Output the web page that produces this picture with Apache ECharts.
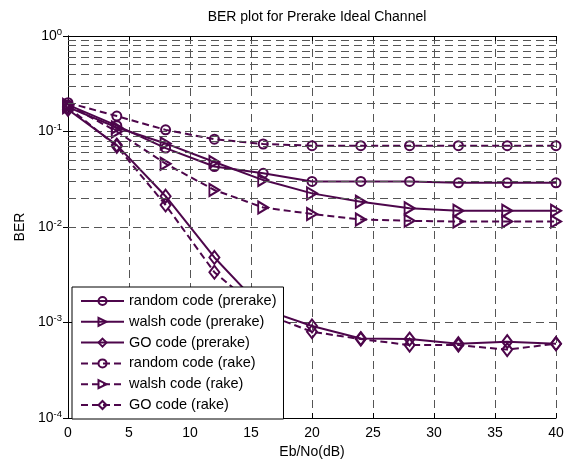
<!DOCTYPE html>
<html>
<head>
<meta charset="utf-8">
<script src="https://cdn.jsdelivr.net/npm/echarts@6/dist/echarts.min.js"></script>
<style>html,body{margin:0;padding:0;background:#fff}#c{width:567px;height:459px}</style>
</head>
<body>
<div id="c"></div>
<script>
const snr = [0, 4, 8, 12, 16, 20, 24, 28, 32, 36, 40];
const randomPrerake = [0.19, 0.115, 0.067, 0.043, 0.0365, 0.030, 0.030, 0.030, 0.029, 0.029, 0.029];
const walshPrerake = [0.18, 0.11, 0.075, 0.048, 0.031, 0.0225, 0.0184, 0.0157, 0.0148, 0.0148, 0.0148];
const goPrerake = [0.17, 0.072, 0.021, 0.0048, 0.00138, 0.00092, 0.00068, 0.00067, 0.0006, 0.00063, 0.0006];
const randomRake = [0.2, 0.145, 0.104, 0.083, 0.074, 0.071, 0.071, 0.071, 0.071, 0.071, 0.071];
const walshRake = [0.19, 0.1, 0.046, 0.0244, 0.016, 0.0137, 0.012, 0.0116, 0.0114, 0.0114, 0.0114];
const goRake = [0.18, 0.07, 0.017, 0.00336, 0.00125, 0.0008, 0.00067, 0.00058, 0.00058, 0.00052, 0.0006];
const seriesNames = ['random code (prerake)', 'walsh code (prerake)', 'GO code (prerake)',
  'random code (rake)', 'walsh code (rake)', 'GO code (rake)'];
const xTicks = [0, 5, 10, 15, 20, 25, 30, 35, 40];
const yDecades = [-4, -3, -2, -1, 0];

const C = '#4d064b';
const FONT = 'Liberation Sans';
const GRID = '#555';
const tri = 'path://M0,0L10,6L0,12Z';
const sym = ['circle', tri, 'diamond'];
const symSize = [9, [10, 12], [10, 13]];
const data = [randomPrerake, walshPrerake, goPrerake, randomRake, walshRake, goRake];

// minor log grid values (2..9 x each decade)
const minorVals = [];
for (let d = -4; d < 0; d++) for (let k = 2; k <= 9; k++) minorVals.push(k * Math.pow(10, d));

const series = data.map((vals, i) => ({
  name: seriesNames[i],
  type: 'line',
  data: vals.map((v, j) => [snr[j], v]),
  symbol: sym[i % 3],
  symbolSize: symSize[i % 3],
  showAllSymbol: true,
  color: C,
  lineStyle: { color: C, width: 2, type: i < 3 ? 'solid' : [7, 4] },
  itemStyle: { color: 'rgba(255,255,255,0)', borderColor: C, borderWidth: 2 },
  z: 3,
  animation: false
}));
series.push({
  type: 'line',
  data: [],
  silent: true,
  animation: false,
  markLine: {
    silent: true,
    symbol: ['none', 'none'],
    label: { show: false },
    lineStyle: { color: GRID, width: 1, type: [8, 5] },
    data: minorVals.map(v => ({ yAxis: v })),
    animation: false
  }
});

const chart = echarts.init(document.getElementById('c'), null, { renderer: 'canvas' });
chart.setOption({
  animation: false,
  backgroundColor: '#fff',
  textStyle: { fontFamily: FONT },
  title: {
    text: 'BER plot for Prerake Ideal Channel',
    left: 312, top: 5, textAlign: 'center',
    textStyle: { fontFamily: FONT, fontSize: 14, fontWeight: 'normal', color: '#000' }
  },
  grid: { left: 68, right: 11, top: 36, bottom: 41, containLabel: false, outerBoundsMode: 'none' },
  legend: {
    orient: 'vertical', left: 72, top: 287,
    padding: [6.5, 7, 6.5, 8],
    itemWidth: 43, itemHeight: 10, itemGap: 5.8,
    backgroundColor: '#fff', borderColor: '#000', borderWidth: 1,
    textStyle: { fontFamily: FONT, fontSize: 14.5, color: '#000', lineHeight: 13 },
    data: seriesNames
  },
  xAxis: [{
    type: 'value', min: 0, max: 40, interval: 5,
    name: 'Eb/No(dB)', nameLocation: 'middle', nameGap: 27,
    nameTextStyle: { fontFamily: FONT, fontSize: 14, color: '#000' },
    axisLine: { lineStyle: { color: '#000', width: 1 } },
    axisTick: { inside: true, length: 5, lineStyle: { color: '#000' } },
    axisLabel: { fontFamily: FONT, fontSize: 14, color: '#000', margin: 8,
      formatter: v => xTicks.indexOf(v) >= 0 ? String(v) : '' },
    splitLine: { show: true, lineStyle: { color: GRID, width: 1, type: [8, 5] } }
  }, {
    type: 'value', min: 0, max: 40, interval: 5, position: 'top',
    axisLine: { show: true, onZero: false, lineStyle: { color: '#000', width: 1 } },
    axisTick: { inside: true, length: 5, lineStyle: { color: '#000' } },
    axisLabel: { show: false }, splitLine: { show: false }
  }],
  yAxis: [{
    type: 'log', logBase: 10, min: 1e-4, max: 1,
    name: 'BER', nameLocation: 'middle', nameGap: 37,
    nameTextStyle: { fontFamily: FONT, fontSize: 14, color: '#000' },
    axisLine: { show: true, lineStyle: { color: '#000', width: 1 } },
    axisTick: { show: true, inside: true, length: 5, lineStyle: { color: '#000' } },
    axisLabel: {
      fontFamily: FONT, fontSize: 14, color: '#000', margin: 6,
      formatter: v => {
        const e = Math.round(Math.log10(v));
        return yDecades.indexOf(e) >= 0 ? '{b|10}{s|' + e + '}' : '';
      },
      rich: {
        b: { fontFamily: FONT, fontSize: 14, color: '#000', lineHeight: 18, verticalAlign: 'middle' },
        s: { fontFamily: FONT, fontSize: 9.5, color: '#000', lineHeight: 10, verticalAlign: 'top' }
      }
    },
    splitLine: { show: true, lineStyle: { color: GRID, width: 1, type: [8, 5] } }
  }, {
    type: 'log', logBase: 10, min: 1e-4, max: 1, position: 'right',
    axisLine: { show: true, lineStyle: { color: '#000', width: 1 } },
    axisTick: { show: true, inside: true, length: 5, lineStyle: { color: '#000' } },
    axisLabel: { show: false }, splitLine: { show: false }
  }],
  series: series
});
</script>
</body>
</html>
